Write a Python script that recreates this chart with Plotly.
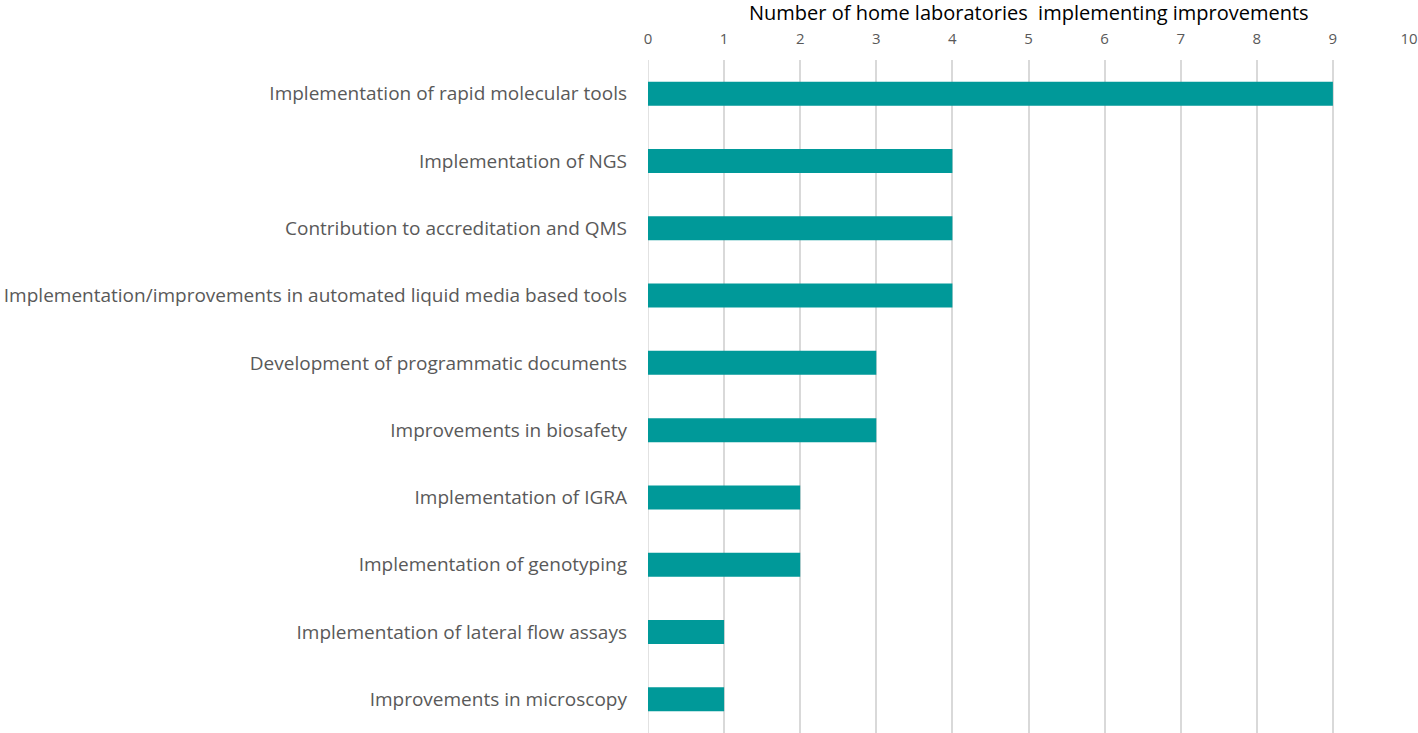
import plotly.graph_objects as go

categories = [
    "Implementation of rapid molecular tools",
    "Implementation of NGS",
    "Contribution to accreditation and QMS",
    "Implementation/improvements in automated liquid media based tools",
    "Development of programmatic documents",
    "Improvements in biosafety",
    "Implementation of IGRA",
    "Implementation of genotyping",
    "Implementation of lateral flow assays",
    "Improvements in microscopy",
]
values = [9, 4, 4, 4, 3, 3, 2, 2, 1, 1]
tick_vals = list(range(0, 11))
title_text = "Number of home laboratories  implementing improvements"

FONT = "Open Sans"

fig = go.Figure(go.Bar(
    x=values, y=categories, orientation="h",
    marker=dict(color="#009999", line=dict(width=0)),
))

fig.update_layout(
    width=1418, height=733,
    margin=dict(l=648, r=9, t=60, b=0),
    paper_bgcolor="white", plot_bgcolor="white",
    bargap=0.643,
    showlegend=False,
    font=dict(family=FONT, color="#595959"),
    annotations=[dict(
        text=title_text, xref="paper", yref="paper", x=0.5, y=1.0710,
        xanchor="center", yanchor="middle", showarrow=False,
        font=dict(family=FONT, size=20, color="#000000"),
    )],
)
fig.update_xaxes(
    side="top", range=[0, 10], tickvals=tick_vals,
    showgrid=True, gridcolor="#d9d9d9", gridwidth=1.5,
    zeroline=False, showline=False, ticks="",
    tickfont=dict(size=15, color="#595959"), ticklabelstandoff=12,
    automargin=False, fixedrange=True,
)
fig.update_yaxes(
    categoryorder="array", categoryarray=categories, autorange="reversed",
    showgrid=False, zeroline=False, showline=False, ticks="",
    tickfont=dict(size=19, color="#595959"), ticklabelstandoff=20,
    automargin=False,
)
fig.add_shape(type="line", xref="x", yref="paper", x0=0, x1=0, y0=0, y1=1,
              line=dict(color="#d9d9d9", width=1.5), layer="below")

fig.write_html("out.html", config={"displayModeBar": False},
               post_script="document.body.style.margin='0';")
